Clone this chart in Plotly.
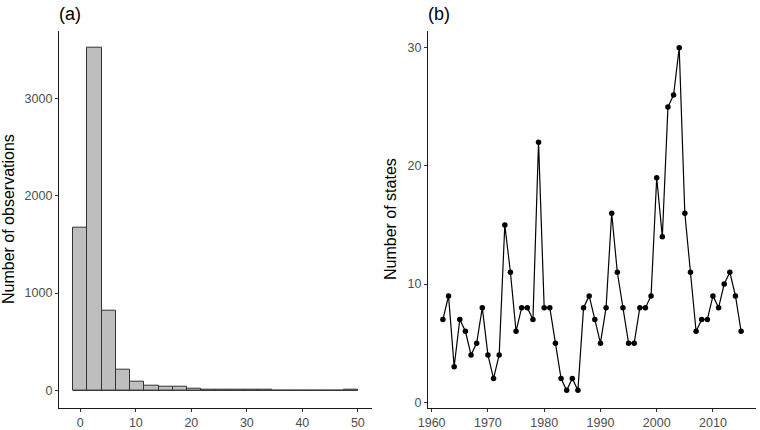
import plotly.graph_objects as go

# ---- Panel (a): histogram ----
bin_width = 48.7 / 19
bin_centers = [round(i * bin_width, 3) for i in range(20)]
bin_counts = [1670, 3520, 815, 212, 92, 48, 36, 36, 14, 9, 3, 5, 4, 3, 0, 0, 0, 0, 1, 2]
hist_xticks = [0, 10, 20, 30, 40, 50]
hist_yticks = [0, 1000, 2000, 3000]

# ---- Panel (b): time series ----
years = list(range(1962, 2016))
n_states = [7, 9, 3, 7, 6, 4, 5, 8, 4, 2, 4, 15, 11, 6, 8, 8, 7, 22, 8, 8,
            5, 2, 1, 2, 1, 8, 9, 7, 5, 8, 16, 11, 8, 5, 5, 8, 8, 9, 19, 14,
            25, 26, 30, 16, 11, 6, 7, 7, 9, 8, 10, 11, 9, 6]
ts_xticks = [1960, 1970, 1980, 1990, 2000, 2010]
ts_yticks = [0, 10, 20, 30]

FONT = "Liberation Sans, Arial, sans-serif"
TICKC = "#4d4d4d"

fig = go.Figure()

edges_lo = bin_centers[0] - bin_width / 2
edges_hi = bin_centers[-1] + bin_width / 2

fig.add_trace(go.Scatter(
    x=[edges_lo, edges_hi], y=[0, 0], mode="lines",
    line=dict(color="#333333", width=1), xaxis="x", yaxis="y",
    showlegend=False, hoverinfo="skip"))
fig.add_trace(go.Bar(
    x=bin_centers, y=bin_counts, width=bin_width,
    marker=dict(color="#bebebe", line=dict(color="#333333", width=1)),
    xaxis="x", yaxis="y", showlegend=False))

fig.add_trace(go.Scatter(
    x=years, y=n_states, mode="lines+markers",
    line=dict(color="black", width=1.2),
    marker=dict(color="black", size=5.5),
    xaxis="x2", yaxis="y2", showlegend=False))

def xr(lo, hi):
    d = (hi - lo) * 0.05
    return [lo - d, hi + d]

axis_common = dict(
    showline=True, linecolor="#1a1a1a", linewidth=1.3,
    ticks="outside", ticklen=3, tickwidth=1, tickcolor="#333333",
    showgrid=False, zeroline=False, automargin=False,
    tickfont=dict(family=FONT, size=12.5, color=TICKC),
)

ydom = [1 - 407.5 / 430, 1 - 30.7 / 430]

fig.update_layout(
    width=760, height=430,
    margin=dict(l=0, r=0, t=0, b=0),
    paper_bgcolor="white", plot_bgcolor="white",
    bargap=0,
    xaxis=dict(domain=[59 / 760, 372 / 760], range=xr(edges_lo, edges_hi),
               tickvals=hist_xticks, anchor="y", **axis_common),
    yaxis=dict(domain=ydom, range=xr(0, max(bin_counts)),
               tickvals=hist_yticks, anchor="x",
               title=dict(text="Number of observations",
                          font=dict(family=FONT, size=16, color="black"),
                          standoff=6),
               **axis_common),
    xaxis2=dict(domain=[428 / 760, 756 / 760], range=xr(min(years), max(years)),
                tickvals=ts_xticks, anchor="y2", **axis_common),
    yaxis2=dict(domain=ydom, range=xr(min(n_states), max(n_states)),
                tickvals=ts_yticks, anchor="x2",
                title=dict(text="Number of states",
                           font=dict(family=FONT, size=16, color="black"),
                           standoff=6),
                **axis_common),
    annotations=[
        dict(text="(a)", xref="paper", yref="paper", x=57 / 760, y=1 - 14 / 430,
             xanchor="left", yanchor="middle", showarrow=False,
             font=dict(family=FONT, size=18, color="black")),
        dict(text="(b)", xref="paper", yref="paper", x=426 / 760, y=1 - 14 / 430,
             xanchor="left", yanchor="middle", showarrow=False,
             font=dict(family=FONT, size=18, color="black")),
    ],
)

fig.write_html("out.html")
